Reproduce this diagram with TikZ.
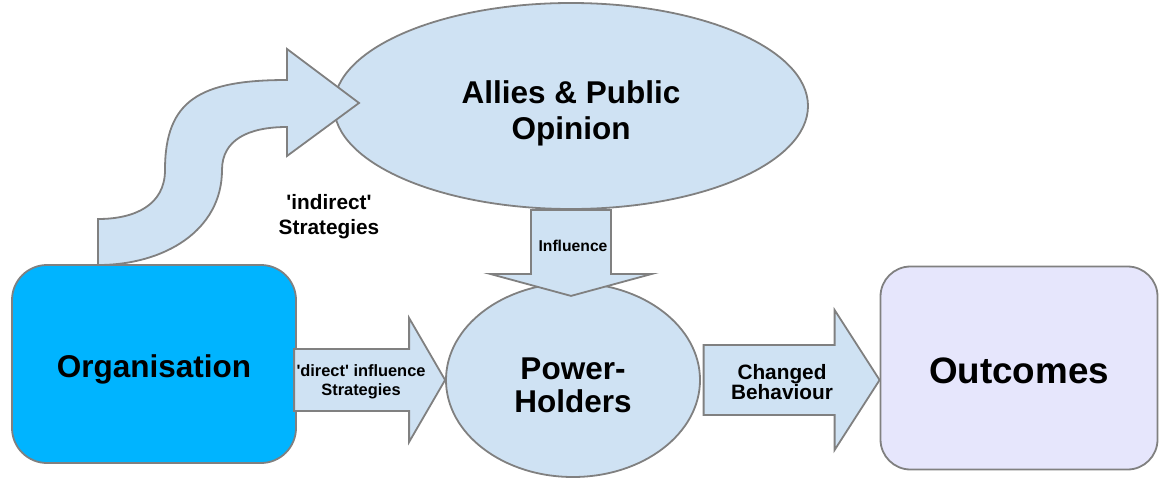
\documentclass[tikz,border=0pt]{standalone}
\usepackage{fontspec}
\setmainfont{Liberation Sans}
\usetikzlibrary{positioning}
\usetikzlibrary{shapes}
\usetikzlibrary{calc}

\definecolor{paleblue}{RGB}{207,226,243}
\definecolor{orgblue}{RGB}{0,180,255}
\definecolor{outfill}{RGB}{230,230,252}
\definecolor{edgegray}{RGB}{128,128,128}

\tikzset{
  panel/.style={draw=edgegray, line width=1.8pt},
  bubble/.style={ellipse, draw=edgegray, fill=paleblue, line width=1.8pt, inner sep=0pt},
  bigtext/.style={align=center, font=\bfseries\fontsize{31.5}{36}\selectfont},
  flow/.style={draw=edgegray, fill=paleblue, line width=1.8pt},
  flowtext/.style={align=center, font=\bfseries\fontsize{20.8}{25}\selectfont}
}

\begin{document}
\begin{tikzpicture}[x=1pt,y=-1pt]
\useasboundingbox (0,0) rectangle (1159,477);
%boxes
\node[panel, fill=orgblue, minimum width=284pt, minimum height=198pt, rounded corners=35pt,
  label={[name=orgtext, bigtext, yshift=-5pt]center:Organisation}] (org) at (154,364) {};
\node[panel, fill=outfill, minimum width=277pt, minimum height=203pt, rounded corners=30pt,
  label={[name=outtext, bigtext, yshift=-3pt, font=\bfseries\fontsize{36.8}{42}\selectfont]center:Outcomes}] (outcomes) at (1019,368) {};
%ellipses
\node[bubble, minimum width=474pt, minimum height=206pt,
  label={[name=alliestext, bigtext, yshift=-7pt]center:Allies \& Public\\Opinion}] (allies) at (571,106) {};
\node[bubble, minimum width=254pt, minimum height=194pt,
  label={[name=powertext, bigtext, yshift=-5pt]center:Power-\\[-3pt]Holders}] (power) at (573,380) {};

%indirect
\draw[flow] ($(org.north)+(-56,0)$) -- (98,219)
  .. controls (135,219) and (165,205) .. (165,170)
  .. controls (165,100) and (200,80) .. (287,80)
  -- (287,49) -- (359,103) -- (287,156) -- (287,127)
  .. controls (248,127) and (222,140) .. (222,170)
  .. controls (222,230) and (165,265) .. (98,265) -- cycle;
%influence
\draw[flow] (allies.south) ++(-40,0) -- ++(0,64) -- ++(-41,0) -- ++(81,22) -- ++(81,-22) -- ++(-41,0) -- ++(0,-64) -- cycle;
%direct
\draw[flow] (power.west) -- ++(-36,-62) -- ++(0,31) -- ++(-115,0) -- ++(0,62) -- ++(115,0) -- ++(0,31) -- cycle;
%changed
\draw[flow] (outcomes.west |- power.center) -- ++(-45,-70) -- ++(0,35) -- ++(-131,0) -- ++(0,70) -- ++(131,0) -- ++(0,35) -- cycle;

%labels
\node[flowtext] (indirect) at (329,217) {\textquotesingle indirect\textquotesingle\\Strategies};
\node[flowtext, font=\bfseries\fontsize{15.7}{18}\selectfont] (influence) at (573,246) {Influence};
\node[flowtext, font=\bfseries\fontsize{16.4}{19}\selectfont] (direct) at (361,382) {\textquotesingle direct\textquotesingle{} influence\\Strategies};
\node[flowtext, font=\bfseries\fontsize{20.8}{20}\selectfont] (changed) at (782,382) {Changed\\Behaviour};
\end{tikzpicture}
\end{document}
